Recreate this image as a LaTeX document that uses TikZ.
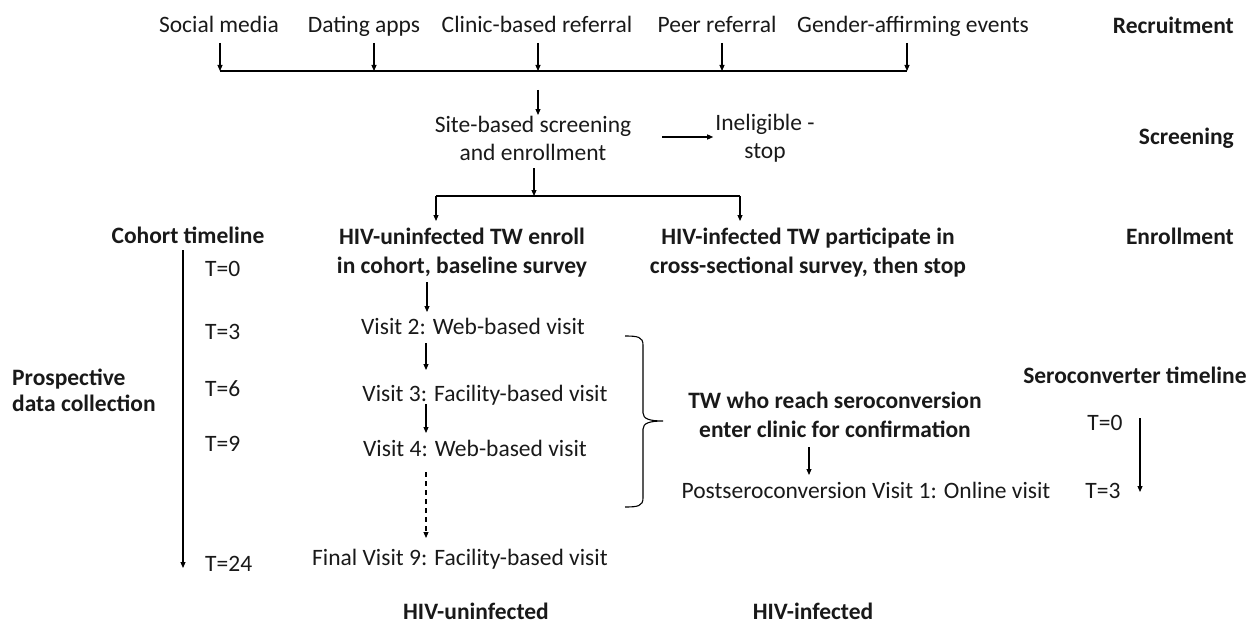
\documentclass[tikz,border=0pt]{standalone}
\usepackage{fontspec}
\setmainfont{Carlito}
\usetikzlibrary{arrows.meta}
\begin{document}
\begin{tikzpicture}[x=1pt,y=-1pt,
  txt/.style={inner sep=2pt,font=\fontsize{23.5}{28}\selectfont,text=black!90,align=center},
  btxt/.style={txt,font=\fontsize{23.5}{29}\selectfont\bfseries},
  one/.style={text height=17pt,text depth=5pt},
  arr/.style={line width=1.1pt,-{Triangle[length=6pt,width=5pt]}},
  ln/.style={line width=1.1pt}]
\useasboundingbox (0,0) rectangle (1256,626);

% recruitment sources
\node[txt,one] (sm) at (219,27) {Social media};
\node[txt,one] (da) at (364,27) {Dating apps};
\node[txt,one] (cb) at (537,27) {Clinic-based referral};
\node[txt,one] (pr) at (717,27) {Peer referral};
\node[txt,one] (ga) at (913,27) {Gender-affirming events};

% stage labels
\node[btxt,one,anchor=east] (lrec) at (1236,28) {Recruitment};
\node[btxt,one,anchor=east] (lscr) at (1236,138) {Screening};
\node[btxt,one,anchor=east] (lenr) at (1236,238) {Enrollment};

% bus
\coordinate (b1) at (220,71);
\coordinate (b2) at (374,71);
\coordinate (b3) at (538,71);
\coordinate (b4) at (722,71);
\coordinate (b5) at (907,71);
\coordinate (t1) at (220,43);
\coordinate (t2) at (374,43);
\coordinate (t3) at (538,43);
\coordinate (t4) at (722,43);
\coordinate (t5) at (907,43);
\draw[arr] (t1) -- (b1);
\draw[arr] (t2) -- (b2);
\draw[arr] (t3) -- (b3);
\draw[arr] (t4) -- (b4);
\draw[arr] (t5) -- (b5);
\draw[ln] (b1) -- (b5);

% screening
\node[txt] (site) at (533,138.5) {Site-based screening\\and enrollment};
\node[txt] (inel) at (765,138.5) {Ineligible -\\stop};
\coordinate (s0) at (538,90);
\coordinate (s1) at (538,115);
\draw[arr] (s0) -- (s1);
\coordinate (i0) at (662,137);
\draw[arr] (i0) -- (inel.west |- i0);

% enrollment split
\coordinate (e0) at (534,168);
\coordinate (e1) at (534,196);
\coordinate (eL) at (436,196);
\coordinate (eR) at (740,196);
\coordinate (eLd) at (436,221);
\coordinate (eRd) at (740,221);
\draw[arr] (e0) -- (e1);
\draw[ln] (eL) -- (eR);
\draw[arr] (eL) -- (eLd);
\draw[arr] (eR) -- (eRd);

\node[btxt] (unin) at (462,252.5) {HIV-uninfected TW enroll\\in cohort, baseline survey};
\node[btxt] (inf) at (808,252.5) {HIV-infected TW participate in\\cross-sectional survey, then stop};

% cohort timeline
\node[btxt,one] (cohort) at (188,237) {Cohort timeline};
\coordinate (ct0) at (183,250);
\coordinate (ct1) at (183,568);
\draw[arr] (ct0) -- (ct1);
\node[txt,one,anchor=west] (T0) at (203,270) {T=0};
\node[txt,one,anchor=west] (T3) at (203,333) {T=3};
\node[txt,one,anchor=west] (T6) at (203,390) {T=6};
\node[txt,one,anchor=west] (T9) at (203,445) {T=9};
\node[txt,one,anchor=west] (T24) at (203,565) {T=24};
\node[btxt,anchor=west,align=left,font=\fontsize{23.5}{26}\selectfont\bfseries] (prosp) at (10,390) {Prospective\\data collection};

% visits
\node[txt,one] (v2) at (473,328) {Visit 2: Web-based visit};
\node[txt,one] (v3) at (485,395) {Visit 3: Facility-based visit};
\node[txt,one] (v4) at (475,450) {Visit 4: Web-based visit};
\node[txt,one] (v9) at (460,559) {Final Visit 9: Facility-based visit};
\coordinate (a0) at (427,282);
\coordinate (a1) at (427,312);
\coordinate (a2) at (426,343);
\coordinate (a3) at (426,370);
\coordinate (a4) at (426,404);
\coordinate (a5) at (426,433);
\coordinate (a6) at (426,472);
\coordinate (a7) at (426,538);
\draw[arr] (a0) -- (a1);
\draw[arr] (a2) -- (a3);
\draw[arr] (a4) -- (a5);
\draw[arr,dash pattern=on 5pt off 4pt] (a6) -- (a7);

% brace
\draw[line width=1.1pt] (625,336) .. controls (638,336) and (643,337) .. (643,345)
  -- (643,413) .. controls (643,419) and (650,421) .. (663,421)
  .. controls (650,421) and (643,423) .. (643,429)
  -- (643,498) .. controls (643,506) and (638,507) .. (625,507);

% seroconversion
\node[btxt] (tw) at (835,415) {TW who reach seroconversion\\enter clinic for confirmation};
\node[txt,one] (post) at (866,492) {Postseroconversion Visit 1: Online visit};
\coordinate (p0) at (809,447);
\coordinate (p1) at (809,475);
\draw[arr] (p0) -- (p1);

\node[btxt,one] (sct) at (1135,377) {Seroconverter timeline};
\node[txt,one] (sT0) at (1105,424) {T=0};
\node[txt,one] (sT3) at (1103,492) {T=3};
\coordinate (st0) at (1140,418);
\coordinate (st1) at (1140,492);
\draw[arr] (st0) -- (st1);

% bottom labels
\node[btxt,one] (hun) at (476,613) {HIV-uninfected};
\node[btxt,one] (hin) at (813,613) {HIV-infected};
\end{tikzpicture}
\end{document}
